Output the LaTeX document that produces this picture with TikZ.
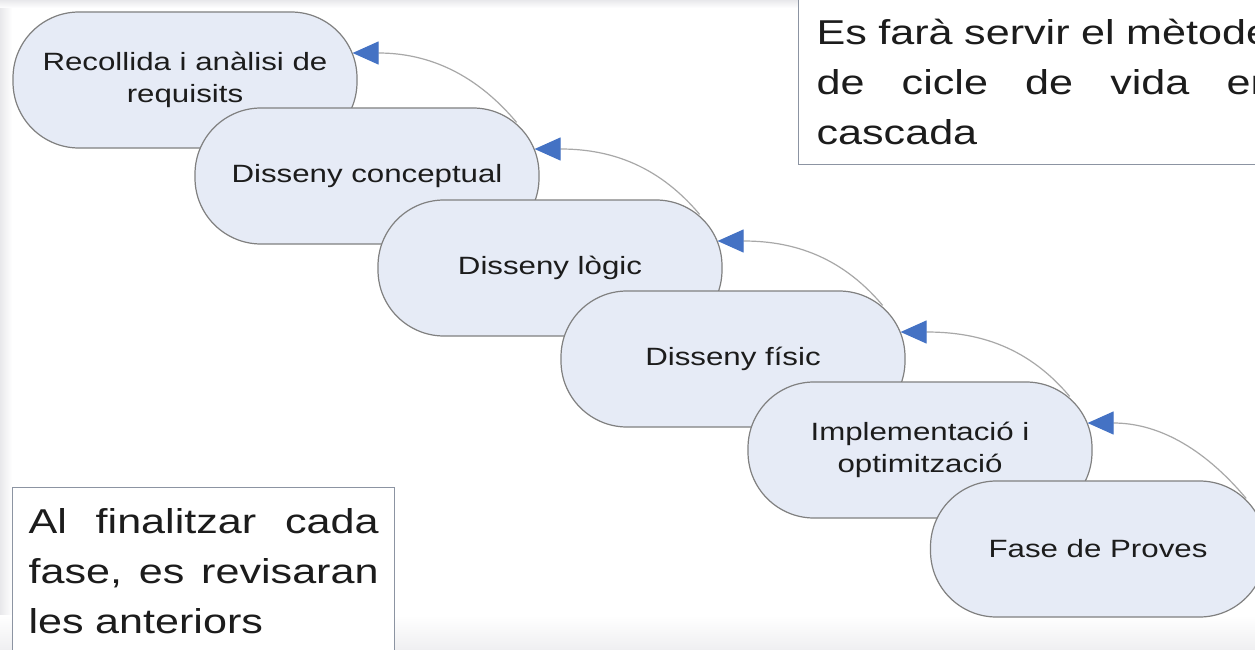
\documentclass[tikz,border=0pt]{standalone}
\usepackage{fontspec}
\setmainfont{Liberation Sans}[FakeStretch=1.25]
\usetikzlibrary{positioning,arrows.meta}
\definecolor{phasefill}{RGB}{230,235,246}
\definecolor{phaseline}{RGB}{128,128,128}
\definecolor{backline}{RGB}{168,168,168}
\definecolor{tipblue}{RGB}{68,114,196}
\definecolor{noteline}{RGB}{140,148,162}
\definecolor{slidegray}{RGB}{232,232,235}
\definecolor{inktext}{RGB}{28,28,28}
\newcommand{\spreadline}[2]{\leavevmode\hbox to #1{#2}}
\begin{document}
\begin{tikzpicture}[
  x=1pt, y=1pt,
  phase/.style={rectangle, draw=phaseline, line width=1.2pt, fill=phasefill, rounded corners=66pt, minimum width=344pt, minimum height=136pt, inner sep=0pt, align=center, text=inktext, font=\fontsize{25}{32}\selectfont},
  note/.style={rectangle, draw=noteline, line width=1.2pt, fill=white, inner xsep=18pt, inner ysep=20pt, align=left, text=inktext, font=\fontsize{34.5}{50}\selectfont},
  back/.style={draw=backline, line width=1.2pt, -{Triangle[length=26pt,width=23pt,color=tipblue]}},
  on grid
]
\useasboundingbox (0,0) rectangle (1255,-650);
\clip (0,0) rectangle (1255,-650);
\fill[white] (0,0) rectangle (1255,-650);
\shade[left color=slidegray, right color=white] (0,0) rectangle (12,-650);
\shade[top color=slidegray, bottom color=white] (0,0) rectangle (1255,-8);
\shade[top color=white, bottom color=slidegray!70] (0,-615) rectangle (1255,-650);

\node[phase] (recollida) at (185,-80) {Recollida i anàlisi de\\requisits};
\node[phase, below right=96pt and 182pt of recollida] (conceptual) {Disseny conceptual};
\node[phase, below right=92pt and 183pt of conceptual] (logic) {Disseny lògic};
\node[phase, below right=91pt and 183pt of logic] (fisic) {Disseny físic};
\node[phase, below right=91pt and 187pt of fisic] (implementacio) {Implementació i\\optimització};
\node[phase, below right=99pt and 178pt of implementacio, minimum width=335pt] (proves) {Fase de Proves};

% Feedback arrows
\draw[back] ([shift={(-23pt,-15pt)}]conceptual.north east) to[out=130,in=0] ([shift={(-5pt,27pt)}]recollida.east);
\draw[back] ([shift={(-23pt,-15pt)}]logic.north east) to[out=130,in=0] ([shift={(-5pt,27pt)}]conceptual.east);
\draw[back] ([shift={(-23pt,-15pt)}]fisic.north east) to[out=130,in=0] ([shift={(-5pt,27pt)}]logic.east);
\draw[back] ([shift={(-23pt,-15pt)}]implementacio.north east) to[out=130,in=0] ([shift={(-5pt,27pt)}]fisic.east);
\draw[back] ([shift={(-20pt,-18pt)}]proves.north east) to[out=130,in=0] ([shift={(-5pt,27pt)}]implementacio.east);

% Notes
\node[note, text width=458pt, anchor=south west] (metode) at (798,-165)
  {\spreadline{458pt}{Es farà servir el mètode}\\
   \spreadline{458pt}{de\hfill cicle\hfill de\hfill vida\hfill en}\\
   cascada};
\node[note, text width=350pt, anchor=north west, inner xsep=16pt, inner ysep=21pt] (revisio) at (12,-487)
  {\spreadline{350pt}{Al\hfill finalitzar\hfill cada}\\
   \spreadline{350pt}{fase,\hfill es\hfill revisaran}\\
   les anteriors};
\end{tikzpicture}
\end{document}
